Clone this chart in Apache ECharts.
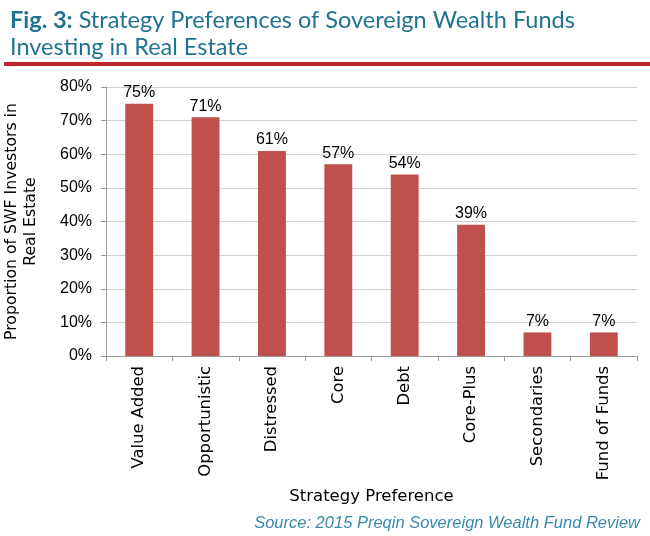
<!DOCTYPE html>
<html><head><meta charset="utf-8">
<script src="https://cdn.jsdelivr.net/npm/echarts@6/dist/echarts.min.js"></script>
<style>html,body{margin:0;padding:0;background:#fff}#c{width:650px;height:536px}</style>
</head><body><div id="c"></div>
<script>
const categories = ['Value Added','Opportunistic','Distressed','Core','Debt','Core-Plus','Secondaries','Fund of Funds'];
const values = [75, 71, 61, 57, 54, 39, 7, 7];
const yTicks = [0, 10, 20, 30, 40, 50, 60, 70, 80];

const TFONT = 'Lato';
const FONT = 'DejaVu Sans';
const NFONT = 'Liberation Sans';
const chart = echarts.init(document.getElementById('c'));
chart.setOption({
  animation: false,
  textStyle: { fontFamily: FONT },
  title: [{
    text: '{b|Fig. 3:} Strategy Preferences of Sovereign Wealth Funds\nInvesting in Real Estate',
    left: 5, top: 2,
    textStyle: {
      fontFamily: TFONT, fontSize: 23.5, fontWeight: 'normal', color: '#1f7390', lineHeight: 27,
      rich: { b: { fontFamily: TFONT, fontSize: 23.5, fontWeight: 'bold', color: '#1f7390' } }
    }
  }, {
    text: 'Source: 2015 Preqin Sovereign Wealth Fund Review',
    right: 5, top: 510,
    textStyle: { fontFamily: 'Liberation Sans', fontSize: 16.5, fontStyle: 'italic', fontWeight: 'normal', color: '#3a88ad' }
  }],
  graphic: [{
    type: 'rect', shape: { x: 4, y: 62, width: 646, height: 4 },
    style: { fill: '#c0272d' }
  }],
  grid: { left: 106, right: 13, top: 87, bottom: 180, containLabel: false, outerBoundsMode: 'none' },
  xAxis: {
    type: 'category', data: categories,
    name: 'Strategy Preference', nameLocation: 'middle', nameGap: 129,
    nameTextStyle: { fontFamily: FONT, fontSize: 16.5, color: '#000' },
    axisLine: { lineStyle: { color: '#999' } },
    axisTick: { show: true, alignWithLabel: false, length: 5, lineStyle: { color: '#999' } },
    axisLabel: { rotate: 90, fontFamily: FONT, fontSize: 16.4, color: '#000', margin: 10 }
  },
  yAxis: {
    type: 'value', min: 0, max: 80, interval: 10,
    name: 'Proportion of SWF Investors in\nReal Estate', nameLocation: 'middle', nameGap: 66,
    nameRotate: 90,
    nameTextStyle: { fontFamily: FONT, fontSize: 15.7, color: '#000', lineHeight: 19, align: 'center' },
    axisLine: { show: true, lineStyle: { color: '#999' } },
    axisTick: { show: true, length: 5, lineStyle: { color: '#999' } },
    axisLabel: { formatter: v => yTicks.includes(v) ? v + '%' : '', fontFamily: NFONT, fontSize: 16, color: '#000', margin: 14 },
    splitLine: { lineStyle: { color: '#d0d0d0' } }
  },
  series: [{
    type: 'bar', data: values, barWidth: '42%',
    itemStyle: { color: '#c0504d' },
    label: { show: true, position: 'top', formatter: '{c}%', fontFamily: NFONT, fontSize: 16, color: '#000', distance: 3 }
  }]
});
</script></body></html>
